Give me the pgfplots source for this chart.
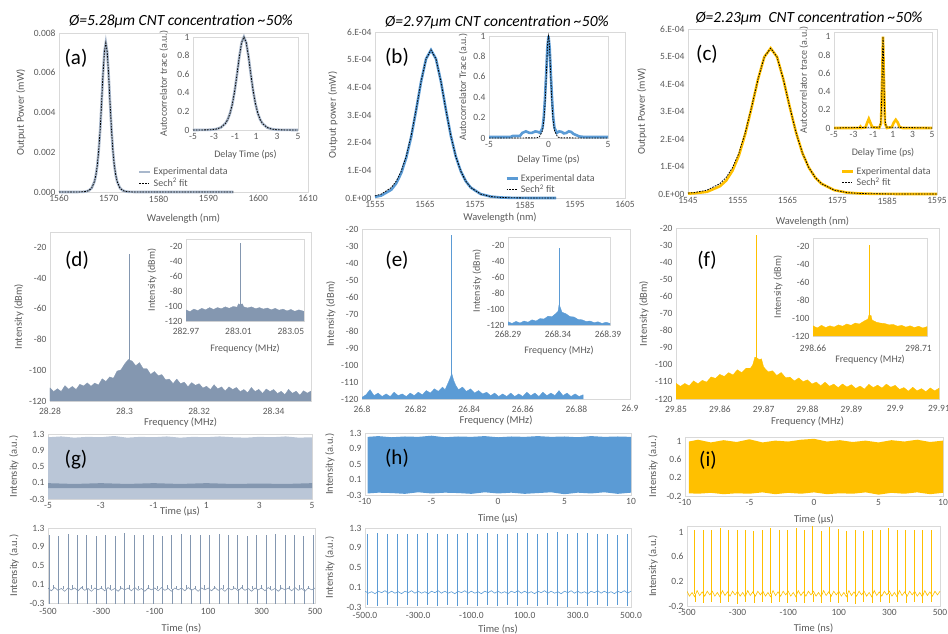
\documentclass[border=0pt]{standalone}
\usepackage{pgfplots}
\pgfplotsset{compat=1.18}
\usepackage{fontspec}
\setmainfont{Carlito}
\definecolor{framegray}{HTML}{D9D9D9}
\definecolor{tickgray}{HTML}{595959}
\definecolor{bgray}{HTML}{8497B0}
\definecolor{bgraylt}{HTML}{A9B8CC}
\definecolor{bgraypale}{HTML}{BAC6D7}
\definecolor{xblue}{HTML}{5B9BD5}
\definecolor{xgold}{HTML}{FFC000}
\pgfplotsset{
 exc/.style={scale only axis, anchor=south west, axis line style={framegray, line width=0.7pt},
   major tick length=0pt, tick style={draw=none},
   tick label style={font=\fontsize{9.5}{11}\selectfont, text=tickgray},
   label style={font=\fontsize{10.5}{12}\selectfont, text=tickgray},
   scaled ticks=false, /pgf/number format/assume math mode=true,
   legend cell align=left,
   legend image code/.code={\draw[##1] (0pt,0pt) -- (11pt,0pt);}},
 ins/.style={exc, axis background/.style={fill=white}, label style={font=\fontsize{10}{11}\selectfont}},
 ins2/.style={exc, label style={font=\fontsize{10}{11}\selectfont}},
 xl/.style={xlabel style={at={(axis description cs:0.5,-#1)},anchor=center}},
 yl/.style={ylabel style={at={(axis description cs:-#1,0.5)},anchor=center}},
 lg/.style={legend style={draw=none, fill=none, at={#1}, anchor=north west, font=\fontsize{10}{11}\selectfont, text=tickgray, row sep=-2pt, inner sep=0pt}},
 expl/.style={line width=2.6pt},
 fitl/.style={black, line width=0.8pt, dash pattern=on 1.6pt off 1.2pt},
}
\begin{document}
\begin{tikzpicture}[x=1pt,y=1pt]
\path[use as bounding box] (0pt,0pt) rectangle (948pt,633pt);

% ---------------- (a) ----------------
\begin{axis}[exc, at={(59pt,441pt)}, width=249pt, height=159pt, clip=false,
  xmin=1560, xmax=1610, ymin=0, ymax=0.008,
  xtick={1560,1570,1580,1590,1600,1610}, xticklabels={1560,1570,1580,1590,1600,1610},
  ytick={0,0.002,0.004,0.006,0.008}, yticklabels={0.000,0.002,0.004,0.006,0.008},
  xlabel={Wavelength (nm)}, ylabel={Output Power (mW)}, xl=0.17, yl=0.153, lg={(0.317,0.165)}]
\addplot[bgraylt, expl] coordinates {(1560,0) (1563.73,0.0000014) (1564.86,0.00001) (1565.43,0.0000273) (1566.00,0.000074) (1566.56,0.0002) (1567.13,0.00053) (1567.41,0.000854) (1567.70,0.001355) (1567.98,0.002103) (1568.27,0.00315) (1568.55,0.004475) (1568.83,0.0059) (1569.12,0.00705) (1569.4,0.0075) (1569.68,0.00705) (1569.97,0.0059) (1570.25,0.004475) (1570.54,0.00315) (1570.82,0.002103) (1571.10,0.001355) (1571.39,0.000854) (1571.67,0.00053) (1572.24,0.0002) (1572.80,0.000074) (1573.37,0.0000273) (1573.94,0.00001) (1575.07,0.0000014) (1595,0)};
\addlegendentry{Experimental data}
\addplot[fitl] coordinates {(1560,0) (1563.73,0.0000014) (1564.86,0.00001) (1565.43,0.0000273) (1566.00,0.000074) (1566.56,0.0002) (1567.13,0.00053) (1567.41,0.000854) (1567.70,0.001355) (1567.98,0.002103) (1568.27,0.00315) (1568.55,0.004475) (1568.83,0.0059) (1569.12,0.00705) (1569.4,0.0075) (1569.68,0.00705) (1569.97,0.0059) (1570.25,0.004475) (1570.54,0.00315) (1570.82,0.002103) (1571.10,0.001355) (1571.39,0.000854) (1571.67,0.00053) (1572.24,0.0002) (1572.80,0.000074) (1573.37,0.0000273) (1573.94,0.00001) (1575.07,0.0000014) (1595,0)};
\addlegendentry{Sech\textsuperscript{2} fit}
\end{axis}
\begin{axis}[ins, at={(193pt,503pt)}, width=105pt, height=93pt, clip=false,
  xmin=-5, xmax=5, ymin=0, ymax=1,
  xtick={-5,-3,-1,1,3,5}, xticklabels={-5,-3,-1,1,3,5},
  ytick={0,0.2,0.4,0.6,0.8,1}, yticklabels={0,0.2,0.4,0.6,0.8,1},
  xlabel={Delay Time (ps)}, ylabel={Autocorrelator trace (a.u.)}, xl=0.269, yl=0.276]
\addplot[bgraylt, expl] coordinates {(-5,0) (-3.67,0.0013) (-3.23,0.0036) (-2.79,0.0099) (-2.35,0.0266) (-1.91,0.0707) (-1.69,0.1138) (-1.47,0.1807) (-1.25,0.2804) (-1.03,0.42) (-0.81,0.5966) (-0.59,0.7864) (-0.37,0.9401) (-0.15,1) (0.07,0.9401) (0.29,0.7864) (0.51,0.5966) (0.73,0.42) (0.95,0.2804) (1.17,0.1807) (1.39,0.1138) (1.61,0.0707) (2.05,0.0266) (2.49,0.0099) (2.93,0.0036) (3.37,0.0013) (5,0)};
\addplot[fitl] coordinates {(-5,0) (-3.67,0.0013) (-3.23,0.0036) (-2.79,0.0099) (-2.35,0.0266) (-1.91,0.0707) (-1.69,0.1138) (-1.47,0.1807) (-1.25,0.2804) (-1.03,0.42) (-0.81,0.5966) (-0.59,0.7864) (-0.37,0.9401) (-0.15,1) (0.07,0.9401) (0.29,0.7864) (0.51,0.5966) (0.73,0.42) (0.95,0.2804) (1.17,0.1807) (1.39,0.1138) (1.61,0.0707) (2.05,0.0266) (2.49,0.0099) (2.93,0.0036) (3.37,0.0013) (5,0)};
\end{axis}

% ---------------- (b) ----------------
\begin{axis}[exc, at={(375pt,435pt)}, width=250pt, height=166pt, clip=false,
  xmin=1555, xmax=1605, ymin=0, ymax=0.0006,
  xtick={1555,1565,1575,1585,1595,1605}, xticklabels={1555,1565,1575,1585,1595,1605},
  ytick={0,0.0001,0.0002,0.0003,0.0004,0.0005,0.0006}, yticklabels={0.E+00,1.E-04,2.E-04,3.E-04,4.E-04,5.E-04,6.E-04},
  xlabel={Wavelength (nm)}, ylabel={Output power (mW)}, xl=0.12, yl=0.168, lg={(0.52,0.157)}]
\addplot[xblue, expl] coordinates {(1555,4e-6) (1556.27,9e-6) (1558.26,3.0e-5) (1559.25,5.3e-5) (1560.24,9.0e-5) (1561.24,1.45e-4) (1562.23,2.2e-4) (1563.22,3.17e-4) (1564.21,4.2e-4) (1565.21,5.03e-4) (1566.2,5.35e-4) (1567.19,5.03e-4) (1568.19,4.207e-4) (1569.18,3.192e-4) (1570.17,2.247e-4) (1571.16,1.5e-4) (1572.16,9.67e-5) (1573.15,6.09e-5) (1574.14,3.78e-5) (1576.13,1.42e-5) (1578.11,5.3e-6) (1580.1,1.9e-6) (1582.09,7e-7) (1586.06,1e-7) (1591.2,0)};
\addlegendentry{Experimental data}
\addplot[fitl] coordinates {(1555,7.6e-6) (1556.27,1.42e-5) (1558.26,3.78e-5) (1559.25,6.09e-5) (1560.24,9.67e-5) (1561.24,1.5e-4) (1562.23,2.247e-4) (1563.22,3.192e-4) (1564.21,4.207e-4) (1565.21,5.03e-4) (1566.2,5.35e-4) (1567.19,5.03e-4) (1568.19,4.207e-4) (1569.18,3.192e-4) (1570.17,2.247e-4) (1571.16,1.5e-4) (1572.16,9.67e-5) (1573.15,6.09e-5) (1574.14,3.78e-5) (1576.13,1.42e-5) (1578.11,5.3e-6) (1580.1,1.9e-6) (1582.09,7e-7) (1586.06,1e-7) (1591.2,0)};
\addlegendentry{Sech\textsuperscript{2} fit}
\end{axis}
\begin{axis}[ins, at={(489pt,495pt)}, width=119pt, height=102pt, clip=false,
  xmin=-5, xmax=5, ymin=0, ymax=1,
  xtick={-5,0,5}, xticklabels={-5,0,5},
  ytick={0,0.2,0.4,0.6,0.8,1}, yticklabels={0,0.2,0.4,0.6,0.8,1},
  xlabel={Delay Time (ps)}, ylabel={Autocorrelator Trace (a.u.)}, xl=0.216, yl=0.218]
\addplot[xblue, expl] coordinates {(-5,0.01) (-3.2,0.01) (-3.0,0.02) (-2.4,0.02) (-2.2,0.05) (-1.9,0.065) (-1.6,0.05) (-1.4,0.05) (-1.1,0.065) (-0.9,0.06) (-0.7,0.05) (-0.5,0.1) (-0.4,0.2) (-0.3,0.38) (-0.2,0.62) (-0.1,0.88) (0,1) (0.1,0.88) (0.2,0.62) (0.3,0.38) (0.4,0.2) (0.5,0.1) (0.7,0.05) (0.9,0.065) (1.1,0.06) (1.3,0.045) (1.5,0.05) (1.7,0.065) (1.9,0.06) (2.1,0.04) (2.4,0.025) (2.6,0.015) (3.0,0.01) (5,0.01)};
\addplot[fitl] coordinates {(-5,0) (-1.02,0.0013) (-0.766,0.0099) (-0.511,0.0707) (-0.383,0.1807) (-0.319,0.2804) (-0.255,0.42) (-0.191,0.5966) (-0.128,0.7864) (-0.064,0.9401) (0,1) (0.064,0.9401) (0.128,0.7864) (0.191,0.5966) (0.255,0.42) (0.319,0.2804) (0.383,0.1807) (0.511,0.0707) (0.766,0.0099) (1.02,0.0013) (5,0)};
\end{axis}

% ---------------- (c) ----------------
\begin{axis}[exc, at={(688pt,439pt)}, width=249pt, height=165pt, clip=false,
  xmin=1545, xmax=1595, ymin=0, ymax=0.0006,
  xtick={1545,1555,1565,1575,1585,1595}, xticklabels={1545,1555,1565,1575,1585,1595},
  ytick={0,0.0001,0.0002,0.0003,0.0004,0.0005,0.0006}, yticklabels={0.E+00,1.E-04,2.E-04,3.E-04,4.E-04,5.E-04,6.E-04},
  xlabel={Wavelength (nm)}, ylabel={Output Power (mW)}, xl=0.17, yl=0.185, lg={(0.614,0.176)}]
\addplot[xgold, expl] coordinates {(1545,1.5e-6) (1546.28,2.5e-6) (1548.83,8e-6) (1551.39,2.8e-5) (1552.67,4.9e-5) (1553.94,8.5e-5) (1555.22,1.4e-4) (1556.49,2.18e-4) (1557.77,3.14e-4) (1559.05,4.168e-4) (1560.32,4.983e-4) (1561.6,5.3e-4) (1562.88,4.983e-4) (1564.15,4.168e-4) (1565.43,3.162e-4) (1566.71,2.226e-4) (1567.98,1.486e-4) (1569.26,9.58e-5) (1570.54,6.03e-5) (1571.81,3.75e-5) (1574.36,1.41e-5) (1576.92,5.2e-6) (1579.47,1.9e-6) (1582.02,7.1e-7) (1587.13,9.5e-8) (1595,0)};
\addlegendentry{Experimental data}
\addplot[fitl] coordinates {(1545,3.2e-6) (1546.28,5.2e-6) (1548.83,1.41e-5) (1551.39,3.75e-5) (1552.67,6.03e-5) (1553.94,9.58e-5) (1555.22,1.486e-4) (1556.49,2.226e-4) (1557.77,3.162e-4) (1559.05,4.168e-4) (1560.32,4.983e-4) (1561.6,5.3e-4) (1562.88,4.983e-4) (1564.15,4.168e-4) (1565.43,3.162e-4) (1566.71,2.226e-4) (1567.98,1.486e-4) (1569.26,9.58e-5) (1570.54,6.03e-5) (1571.81,3.75e-5) (1574.36,1.41e-5) (1576.92,5.2e-6) (1579.47,1.9e-6) (1582.02,7.1e-7) (1587.13,9.5e-8) (1595,0)};
\addlegendentry{Sech\textsuperscript{2} fit}
\end{axis}
\begin{axis}[ins, at={(834pt,505pt)}, width=98pt, height=96pt, clip=false,
  xmin=-5, xmax=5, ymin=0, ymax=1.05,
  xtick={-5,-3,-1,1,3,5}, xticklabels={-5,-3,-1,1,3,5},
  ytick={0,0.2,0.4,0.6,0.8,1}, yticklabels={0,0.2,0.4,0.6,0.8,1},
  xlabel={Delay Time (ps)}, ylabel={Autocorrelator trace (a.u.)}, xl=0.26, yl=0.306]
\addplot[xgold, expl] coordinates {(-5,0) (-2.4,0) (-2.3,0.015) (-2.2,0) (-1.8,0.005) (-1.6,0.06) (-1.45,0.1) (-1.3,0.06) (-1.1,0.01) (-0.4,0) (-0.2,0.05) (-0.1,0.5) (0,1) (0.1,0.5) (0.2,0.05) (0.4,0) (0.9,0.01) (1.1,0.06) (1.3,0.09) (1.5,0.06) (1.7,0.01) (2.0,0) (5,0)};
\addplot[fitl] coordinates {(-5,0) (-0.34,0.0099) (-0.227,0.0707) (-0.17,0.1807) (-0.113,0.42) (-0.057,0.7864) (0,1) (0.057,0.7864) (0.113,0.42) (0.17,0.1807) (0.227,0.0707) (0.34,0.0099) (5,0)};
\end{axis}

% ---------------- (d) ----------------
\begin{axis}[exc, at={(50pt,232pt)}, width=261pt, height=169pt,
  xmin=28.28, xmax=28.35, ymin=-120, ymax=-10,
  xtick={28.28,28.30,28.32,28.34}, xticklabels={28.28,28.3,28.32,28.34},
  ytick={-120,-100,-80,-60,-40,-20}, yticklabels={-120,-100,-80,-60,-40,-20},
  xlabel={Frequency (MHz)}, ylabel={Intensity (dBm)}, xl=0.13, yl=0.119,
  xticklabel style={yshift=-3pt}]
\addplot[fill=bgray, draw=bgray, line width=0.3pt] coordinates {(28.280,-120) (28.280,-111.5) (28.281,-113.8) (28.282,-112) (28.283,-113.8) (28.284,-110) (28.285,-112.3) (28.286,-110.5) (28.287,-112.5) (28.288,-109.1) (28.289,-110.2) (28.290,-108.2) (28.291,-110.4) (28.292,-108.3) (28.293,-109.6) (28.294,-105.5) (28.295,-107.3) (28.296,-104.3) (28.297,-105.2) (28.298,-100.5) (28.299,-99.8) (28.300,-96) (28.301,-93) (28.302,-94) (28.303,-97) (28.304,-95) (28.305,-99) (28.306,-99) (28.307,-102.7) (28.308,-100.8) (28.309,-103.5) (28.310,-102.8) (28.311,-106.2) (28.312,-105.7) (28.313,-108.7) (28.314,-105.7) (28.315,-108.7) (28.316,-107.7) (28.317,-110.7) (28.318,-108) (28.319,-109.8) (28.320,-108.7) (28.321,-111.5) (28.322,-110.4) (28.323,-112.6) (28.324,-109.4) (28.325,-112.1) (28.326,-110.8) (28.327,-113.5) (28.328,-110.8) (28.329,-112.5) (28.330,-111.2) (28.331,-113.9) (28.332,-112.5) (28.333,-114.6) (28.334,-111.2) (28.335,-113.8) (28.336,-112.4) (28.337,-115) (28.338,-112.2) (28.339,-113.8) (28.340,-112.5) (28.341,-115.1) (28.342,-113.7) (28.343,-115.8) (28.344,-112.4) (28.345,-115) (28.346,-113.6) (28.347,-116.2) (28.348,-113.3) (28.349,-114.9) (28.350,-113.5) (28.350,-120)};
\addplot[bgray, line width=0.8pt] coordinates {(28.3012,-120) (28.3012,-24)};
\end{axis}
% inset x: kHz above 282.97 MHz
\begin{axis}[ins2, at={(186pt,312pt)}, width=118pt, height=82pt,
  xmin=0, xmax=90, ymin=-120, ymax=-10,
  xtick={0,40,80}, xticklabels={282.97,283.01,283.05},
  ytick={-120,-100,-80,-60,-40,-20}, yticklabels={-120,-100,-80,-60,-40,-20},
  xlabel={Frequency (MHz)}, ylabel={Intensity (dBm)}, xl=0.341, yl=0.288,
  xticklabel style={yshift=-3pt}]
\addplot[fill=bgray, draw=bgray, line width=0.3pt] coordinates {(0,-120) (0,-105) (3,-107.5) (6,-104) (9,-106) (12,-103) (15,-105) (18,-102) (21,-104.5) (24,-102) (27,-103.5) (30,-101) (33,-103) (36,-100.5) (39,-101.5) (40,-97) (41,-98) (43,-97) (44,-101) (47,-102.5) (50,-101) (53,-103.5) (56,-102) (59,-104) (62,-102.5) (65,-105) (68,-103) (71,-105.5) (74,-104) (77,-106.5) (80,-104.5) (83,-107) (86,-105) (90,-107) (90,-120)};
\addplot[bgray, line width=0.8pt] coordinates {(41.5,-120) (41.5,-15)};
\end{axis}

% ---------------- (e) ----------------
\begin{axis}[exc, at={(362pt,234pt)}, width=268pt, height=170pt,
  xmin=26.8, xmax=26.9, ymin=-120, ymax=-20,
  xtick={26.80,26.82,26.84,26.86,26.88,26.90}, xticklabels={26.8,26.82,26.84,26.86,26.88,26.9},
  ytick={-120,-110,-100,-90,-80,-70,-60,-50,-40,-30,-20}, yticklabels={-120,-110,-100,-90,-80,-70,-60,-50,-40,-30,-20},
  xlabel={Frequency (MHz)}, ylabel={Intensity (dBm)}, xl=0.129, yl=0.116,
  xticklabel style={yshift=-3pt}]
\addplot[fill=xblue, draw=xblue, line width=0.3pt] coordinates {(26.8000,-120) (26.8000,-119) (26.8015,-117.5) (26.8030,-114.5) (26.8045,-118) (26.8060,-116.5) (26.8075,-118.5) (26.8090,-117) (26.8105,-118.5) (26.8120,-116) (26.8135,-118) (26.8150,-117) (26.8165,-118.5) (26.8180,-116.5) (26.8195,-118) (26.8210,-116) (26.8225,-117.5) (26.8240,-115) (26.8255,-116.5) (26.8270,-114) (26.8285,-115.5) (26.8300,-113) (26.8310,-114.5) (26.8320,-111) (26.8328,-108) (26.8335,-105) (26.8342,-109) (26.8350,-112) (26.8360,-114.5) (26.8375,-113) (26.8390,-115.5) (26.8405,-114) (26.8420,-116.5) (26.8435,-115) (26.8450,-117) (26.8465,-116) (26.8480,-118) (26.8495,-116.5) (26.8510,-118.5) (26.8525,-117) (26.8540,-118.5) (26.8555,-116.5) (26.8570,-118.5) (26.8585,-117) (26.8600,-118.5) (26.8615,-116) (26.8630,-118) (26.8645,-116.5) (26.8660,-118.5) (26.8675,-116) (26.8690,-118) (26.8705,-116.5) (26.8720,-118) (26.8735,-115) (26.8750,-118) (26.8765,-116.5) (26.8780,-118.5) (26.8795,-117) (26.8810,-118.5) (26.8825,-117.5) (26.8825,-120)};
\addplot[xblue, line width=0.8pt] coordinates {(26.8333,-120) (26.8333,-23.5)};
\end{axis}
% inset x: kHz above 268.29 MHz
\begin{axis}[ins2, at={(508pt,308pt)}, width=102pt, height=88pt,
  xmin=0, xmax=102, ymin=-120, ymax=-10,
  xtick={0,50,100}, xticklabels={268.29,268.34,268.39},
  ytick={-120,-100,-80,-60,-40,-20}, yticklabels={-120,-100,-80,-60,-40,-20},
  xlabel={Frequency (MHz)}, ylabel={Intensity (dBm)}, xl=0.295, yl=0.304,
  xticklabel style={yshift=-2pt}]
\addplot[fill=xblue, draw=xblue, line width=0.3pt] coordinates {(0,-120) (0,-116) (4,-118) (8,-115.5) (12,-117.5) (16,-115) (20,-116.5) (24,-113.5) (28,-115) (32,-112) (36,-112.5) (40,-109) (44,-109.5) (48,-105.5) (50,-103) (51,-95) (52,-97) (54,-104) (58,-106) (62,-109.5) (66,-110) (70,-113) (74,-113.5) (78,-115.5) (82,-115) (86,-117) (90,-116) (94,-118) (98,-116.5) (102,-118) (102,-120)};
\addplot[xblue, line width=0.8pt] coordinates {(51.3,-120) (51.3,-24)};
\end{axis}

% ---------------- (f) ----------------
% x: kHz above 29.85 MHz
\begin{axis}[exc, at={(676pt,234pt)}, width=263pt, height=171pt,
  xmin=0, xmax=60, ymin=-120, ymax=-20,
  xtick={0,10,20,30,40,50,60}, xticklabels={29.85,29.86,29.87,29.88,29.89,29.9,29.91},
  ytick={-120,-110,-100,-90,-80,-70,-60,-50,-40,-30,-20}, yticklabels={-120,-110,-100,-90,-80,-70,-60,-50,-40,-30,-20},
  xlabel={Frequency (MHz)}, ylabel={Intensity (dBm)}, xl=0.129, yl=0.122,
  xticklabel style={yshift=-3pt}]
\addplot[fill=xgold, draw=xgold, line width=0.3pt] coordinates {(0,-120) (0,-110.8) (1,-112.6) (2,-110.9) (3,-112.3) (4,-109.4) (5,-111.1) (6,-109.1) (7,-110.1) (8,-107.1) (9,-107.9) (10,-105.6) (11,-106.8) (12,-104.6) (13,-105.9) (14,-102.9) (15,-104.6) (16,-102) (17,-102) (17.5,-100) (18,-95.5) (18.5,-96) (19,-97) (19.5,-96.5) (20,-101.3) (21,-104.1) (22,-103.5) (23,-106.2) (24,-104.5) (25,-107.5) (26,-107.2) (27,-109.4) (28,-107.7) (29,-109.8) (30,-108.8) (31,-111.2) (32,-110.1) (33,-112.3) (34,-110.1) (35,-112.5) (36,-111.3) (37,-113.3) (38,-111.2) (39,-113) (40,-111.6) (41,-113.8) (42,-112.4) (43,-114.2) (44,-111.4) (45,-113.3) (46,-111.9) (47,-113.6) (48,-111.3) (49,-113.1) (50,-112) (51,-114.4) (52,-113.3) (53,-115.4) (54,-113.1) (55,-115.2) (56,-113.9) (57,-115.7) (58,-113.5) (59,-115.2) (60,-113.7) (60,-120)};
\addplot[xgold, line width=0.8pt] coordinates {(18.3,-120) (18.3,-24)};
\end{axis}
% inset x: kHz above 298.66 MHz
\begin{axis}[ins2, at={(813pt,297pt)}, width=114pt, height=98pt,
  xmin=0, xmax=54, ymin=-120, ymax=-10,
  xtick={0,50}, xticklabels={298.66,298.71},
  ytick={-120,-100,-80,-60,-40,-20}, yticklabels={-120,-100,-80,-60,-40,-20},
  xlabel={Frequency (MHz)}, ylabel={Intensity (dBm)}, xl=0.245, yl=0.307,
  xticklabel style={yshift=-5pt}]
\addplot[fill=xgold, draw=xgold, line width=0.3pt] coordinates {(0,-120) (0,-108.5) (2,-111) (4,-108) (6,-110.5) (8,-108.5) (10,-110) (12,-107.5) (14,-109) (16,-106.5) (18,-108) (20,-105.5) (22,-106.5) (24,-103.5) (26,-101) (26.5,-96.5) (27.5,-97) (28,-102) (30,-104.5) (32,-105.5) (34,-106) (36,-107.5) (38,-107) (40,-109) (42,-108) (44,-110) (46,-108.5) (48,-110.5) (50,-109) (52,-111) (54,-109.5) (54,-120)};
\addplot[xgold, line width=0.8pt] coordinates {(26.8,-120) (26.8,-17.8)};
\end{axis}

% ---------------- (g) ----------------
\begin{axis}[exc, at={(48pt,134pt)}, width=264pt, height=65pt,
  xmin=-5, xmax=5, ymin=-0.3, ymax=1.3,
  xtick={-5,-3,-1,1,3,5}, xticklabels={-5,-3,-1,1,3,5},
  ytick={-0.3,0.1,0.5,0.9,1.3}, yticklabels={-0.3,0.1,0.5,0.9,1.3},
  xlabel={Time (µs)}, ylabel={Intensity (a.u.)}, xl=0.185, yl=0.129]
\addplot[fill=bgraypale, draw=none] coordinates {(-5,-0.3) (-5,1.22) (-4.5,1.24) (-4,1.21) (-3.5,1.23) (-3,1.22) (-2.5,1.25) (-2,1.21) (-1.5,1.23) (-1,1.22) (-0.5,1.24) (0,1.21) (0.5,1.23) (1,1.22) (1.5,1.24) (2,1.22) (2.5,1.21) (3,1.23) (3.5,1.22) (4,1.24) (4.5,1.21) (5,1.22) (5,-0.3)};
\addplot[fill=bgray, draw=none] coordinates {(-5,-0.03) (-5,0.09) (-4,0.07) (-3,0.09) (-2,0.07) (-1,0.09) (0,0.07) (1,0.09) (2,0.07) (3,0.08) (4,0.07) (5,0.09) (5,-0.03)};
\end{axis}
\begin{axis}[exc, at={(48pt,30pt)}, width=267pt, height=75pt,
  xmin=-500, xmax=500, ymin=-0.3, ymax=1.3,
  xtick={-500,-300,-100,100,300,500}, xticklabels={-500,-300,-100,100,300,500},
  ytick={-0.3,0.1,0.5,0.9,1.3}, yticklabels={-0.3,0.1,0.5,0.9,1.3},
  xlabel={Time (ns)}, ylabel={Intensity (a.u.)}, xl=0.333, yl=0.127,
  xticklabel style={yshift=-2pt}]
\addplot[bgray, line width=0.6pt] coordinates {(-500,0.02) (-487.5,-0.04) (-475,0.03) (-462.5,-0.03) (-450,0.01) (-437.5,-0.05) (-425,0.02) (-412.5,-0.02) (-400,0.02) (-387.5,-0.04) (-375,0.03) (-362.5,-0.03) (-350,0.01) (-337.5,-0.05) (-325,0.02) (-312.5,-0.02) (-300,0.02) (-287.5,-0.04) (-275,0.03) (-262.5,-0.03) (-250,0.01) (-237.5,-0.05) (-225,0.02) (-212.5,-0.02) (-200,0.02) (-187.5,-0.04) (-175,0.03) (-162.5,-0.03) (-150,0.01) (-137.5,-0.05) (-125,0.02) (-112.5,-0.02) (-100,0.02) (-87.5,-0.04) (-75,0.03) (-62.5,-0.03) (-50,0.01) (-37.5,-0.05) (-25,0.02) (-12.5,-0.02) (0,0.02) (12.5,-0.04) (25,0.03) (37.5,-0.03) (50,0.01) (62.5,-0.05) (75,0.02) (87.5,-0.02) (100,0.02) (112.5,-0.04) (125,0.03) (137.5,-0.03) (150,0.01) (162.5,-0.05) (175,0.02) (187.5,-0.02) (200,0.02) (212.5,-0.04) (225,0.03) (237.5,-0.03) (250,0.01) (262.5,-0.05) (275,0.02) (287.5,-0.02) (300,0.02) (312.5,-0.04) (325,0.03) (337.5,-0.03) (350,0.01) (362.5,-0.05) (375,0.02) (387.5,-0.02) (400,0.02) (412.5,-0.04) (425,0.03) (437.5,-0.03) (450,0.01) (462.5,-0.05) (475,0.02) (487.5,-0.02) (500,0.02)};
\addplot[bgray, line width=0.7pt, ycomb] coordinates {(-496.0,1.15) (-495.0,-0.35) (-478.3,0.08) (-460.7,1.14) (-459.7,-0.35) (-443.0,0.07) (-425.3,1.18) (-424.3,-0.35) (-407.6,0.08) (-390.0,1.15) (-389.0,-0.35) (-372.3,0.06) (-354.6,1.16) (-353.6,-0.35) (-336.9,0.08) (-319.3,1.14) (-318.3,-0.35) (-301.6,0.07) (-283.9,1.15) (-282.9,-0.35) (-266.2,0.08) (-248.6,1.14) (-247.6,-0.35) (-230.9,0.06) (-213.3,1.19) (-212.3,-0.35) (-195.6,0.08) (-177.9,1.15) (-176.9,-0.35) (-160.2,0.07) (-142.6,1.16) (-141.6,-0.35) (-124.9,0.08) (-107.3,1.15) (-106.3,-0.35) (-89.6,0.06) (-71.9,1.14) (-70.9,-0.35) (-54.2,0.08) (-36.6,1.15) (-35.6,-0.35) (-18.9,0.07) (-1.2,1.17) (-0.2,-0.35) (16.5,0.08) (34.1,1.15) (35.1,-0.35) (51.8,0.06) (69.4,1.16) (70.4,-0.35) (87.1,0.08) (104.8,1.15) (105.8,-0.35) (122.5,0.07) (140.1,1.17) (141.1,-0.35) (157.8,0.08) (175.5,1.15) (176.5,-0.35) (193.2,0.06) (210.8,1.15) (211.8,-0.35) (228.5,0.08) (246.1,1.14) (247.1,-0.35) (263.8,0.07) (281.5,1.15) (282.5,-0.35) (299.2,0.08) (316.8,1.15) (317.8,-0.35) (334.5,0.06) (352.2,1.18) (353.2,-0.35) (369.9,0.08) (387.5,1.15) (388.5,-0.35) (405.2,0.07) (422.8,1.16) (423.8,-0.35) (440.5,0.08) (458.2,1.14) (459.2,-0.35) (475.9,0.06) (493.5,1.16) (494.5,-0.35)};
\end{axis}

% ---------------- (h) ----------------
\begin{axis}[exc, at={(365pt,138pt)}, width=266pt, height=62pt,
  xmin=-10, xmax=10, ymin=-0.3, ymax=1.3,
  xtick={-10,-5,0,5,10}, xticklabels={-10,-5,0,5,10},
  ytick={-0.3,0.1,0.5,0.9,1.3}, yticklabels={-0.3,0.1,0.5,0.9,1.3},
  xlabel={Time (µs)}, ylabel={Intensity (a.u.)}, xl=0.387, yl=0.132]
\addplot[fill=xblue, draw=none] coordinates {(-9.8,-0.26) (-9.8,1.2) (-9,1.22) (-8,1.19) (-7,1.21) (-6,1.2) (-5,1.23) (-4,1.19) (-3,1.21) (-2,1.2) (-1,1.22) (0,1.19) (1,1.21) (2,1.2) (3,1.22) (4,1.2) (5,1.21) (6,1.19) (7,1.22) (8,1.2) (9,1.21) (10,1.2) (10,-0.24) (9,-0.27) (8,-0.23) (7,-0.26) (6,-0.24) (5,-0.28) (4,-0.23) (3,-0.25) (2,-0.27) (1,-0.24) (0,-0.26) (-1,-0.23) (-2,-0.27) (-3,-0.25) (-4,-0.24) (-5,-0.26) (-6,-0.23) (-7,-0.27) (-8,-0.25) (-9,-0.24)};
\end{axis}
\begin{axis}[exc, at={(365pt,26pt)}, width=266pt, height=79pt,
  xmin=-500, xmax=500, ymin=-0.3, ymax=1.3,
  xtick={-500,-300,-100,100,300,500}, xticklabels={-500.0,-300.0,-100.0,100.0,300.0,500.0},
  ytick={-0.3,0.1,0.5,0.9,1.3}, yticklabels={-0.3,0.1,0.5,0.9,1.3},
  xlabel={Time (ns)}, ylabel={Intensity (a.u.)}, xl=0.278, yl=0.132,
  xticklabel style={yshift=-2pt}]
\addplot[xblue, line width=0.6pt] coordinates {(-500,0.02) (-487.5,-0.02) (-475,0.01) (-462.5,-0.03) (-450,0.02) (-437.5,-0.01) (-425,0.03) (-412.5,-0.02) (-400,0.02) (-387.5,-0.02) (-375,0.01) (-362.5,-0.03) (-350,0.02) (-337.5,-0.01) (-325,0.03) (-312.5,-0.02) (-300,0.02) (-287.5,-0.02) (-275,0.01) (-262.5,-0.03) (-250,0.02) (-237.5,-0.01) (-225,0.03) (-212.5,-0.02) (-200,0.02) (-187.5,-0.02) (-175,0.01) (-162.5,-0.03) (-150,0.02) (-137.5,-0.01) (-125,0.03) (-112.5,-0.02) (-100,0.02) (-87.5,-0.02) (-75,0.01) (-62.5,-0.03) (-50,0.02) (-37.5,-0.01) (-25,0.03) (-12.5,-0.02) (0,0.02) (12.5,-0.02) (25,0.01) (37.5,-0.03) (50,0.02) (62.5,-0.01) (75,0.03) (87.5,-0.02) (100,0.02) (112.5,-0.02) (125,0.01) (137.5,-0.03) (150,0.02) (162.5,-0.01) (175,0.03) (187.5,-0.02) (200,0.02) (212.5,-0.02) (225,0.01) (237.5,-0.03) (250,0.02) (262.5,-0.01) (275,0.03) (287.5,-0.02) (300,0.02) (312.5,-0.02) (325,0.01) (337.5,-0.03) (350,0.02) (362.5,-0.01) (375,0.03) (387.5,-0.02) (400,0.02) (412.5,-0.02) (425,0.01) (437.5,-0.03) (450,0.02) (462.5,-0.01) (475,0.03) (487.5,-0.02) (500,0.02)};
\addplot[xblue, line width=0.7pt, ycomb] coordinates {(-491.0,1.18) (-490.0,-0.26) (-453.4,1.19) (-452.4,-0.27) (-415.8,1.18) (-414.8,-0.25) (-378.2,1.17) (-377.2,-0.27) (-340.6,1.18) (-339.6,-0.26) (-303.0,1.18) (-302.0,-0.28) (-265.4,1.19) (-264.4,-0.26) (-227.8,1.18) (-226.8,-0.27) (-190.2,1.17) (-189.2,-0.25) (-152.6,1.18) (-151.6,-0.27) (-115.0,1.19) (-114.0,-0.26) (-77.4,1.18) (-76.4,-0.27) (-39.8,1.19) (-38.8,-0.25) (-2.2,1.17) (-1.2,-0.27) (35.4,1.18) (36.4,-0.26) (73.0,1.19) (74.0,-0.27) (110.6,1.2) (111.6,-0.25) (148.2,1.18) (149.2,-0.27) (185.8,1.2) (186.8,-0.26) (223.4,1.21) (224.4,-0.27) (261.0,1.18) (262.0,-0.3) (298.6,1.19) (299.6,-0.26) (336.2,1.2) (337.2,-0.27) (373.8,1.18) (374.8,-0.25) (411.4,1.17) (412.4,-0.27) (449.0,1.16) (450.0,-0.26) (486.6,1.18) (487.6,-0.27)};
\end{axis}

% ---------------- (i) ----------------
\begin{axis}[exc, at={(685pt,137pt)}, width=258pt, height=59pt,
  xmin=-10, xmax=10, ymin=-0.2, ymax=1.1,
  xtick={-10,-5,0,5,10}, xticklabels={-10,-5,0,5,10},
  ytick={-0.2,0.2,0.6,1}, yticklabels={-0.2,0.2,0.6,1},
  xlabel={Time (µs)}, ylabel={Intensity (a.u.)}, xl=0.39, yl=0.124]
\addplot[fill=xgold, draw=none] coordinates {(-9.7,-0.14) (-9.7,1.0) (-9,1.04) (-8,0.98) (-7,1.03) (-6,0.99) (-5,1.05) (-4,0.98) (-3,1.02) (-2,1.0) (-1,1.04) (0,1.06) (1,1.0) (2,1.03) (3,0.99) (4,1.02) (5,0.98) (6,1.03) (7,1.0) (8,1.04) (9,0.99) (10,1.02) (10,-0.13) (9,-0.16) (8,-0.12) (7,-0.15) (6,-0.13) (5,-0.17) (4,-0.12) (3,-0.15) (2,-0.14) (1,-0.16) (0,-0.12) (-1,-0.15) (-2,-0.13) (-3,-0.16) (-4,-0.12) (-5,-0.15) (-6,-0.14) (-7,-0.16) (-8,-0.13) (-9,-0.15)};
\end{axis}
\begin{axis}[exc, at={(687pt,27pt)}, width=253pt, height=80pt,
  xmin=-500, xmax=500, ymin=-0.2, ymax=1.1,
  xtick={-500,-300,-100,100,300,500}, xticklabels={-500,-300,-100,100,300,500},
  ytick={-0.2,0.2,0.6,1}, yticklabels={-0.2,0.2,0.6,1},
  xlabel={Time (ns)}, ylabel={Intensity (a.u.)}, xl=0.275, yl=0.134]
\addplot[xgold, line width=0.6pt] coordinates {(-500,0.04) (-490,-0.04) (-480,0.02) (-470,-0.05) (-460,0.05) (-450,-0.03) (-440,0.03) (-430,-0.04) (-420,0.04) (-410,-0.02) (-400,0.04) (-390,-0.04) (-380,0.02) (-370,-0.05) (-360,0.05) (-350,-0.03) (-340,0.03) (-330,-0.04) (-320,0.04) (-310,-0.02) (-300,0.04) (-290,-0.04) (-280,0.02) (-270,-0.05) (-260,0.05) (-250,-0.03) (-240,0.03) (-230,-0.04) (-220,0.04) (-210,-0.02) (-200,0.04) (-190,-0.04) (-180,0.02) (-170,-0.05) (-160,0.05) (-150,-0.03) (-140,0.03) (-130,-0.04) (-120,0.04) (-110,-0.02) (-100,0.04) (-90,-0.04) (-80,0.02) (-70,-0.05) (-60,0.05) (-50,-0.03) (-40,0.03) (-30,-0.04) (-20,0.04) (-10,-0.02) (0,0.04) (10,-0.04) (20,0.02) (30,-0.05) (40,0.05) (50,-0.03) (60,0.03) (70,-0.04) (80,0.04) (90,-0.02) (100,0.04) (110,-0.04) (120,0.02) (130,-0.05) (140,0.05) (150,-0.03) (160,0.03) (170,-0.04) (180,0.04) (190,-0.02) (200,0.04) (210,-0.04) (220,0.02) (230,-0.05) (240,0.05) (250,-0.03) (260,0.03) (270,-0.04) (280,0.04) (290,-0.02) (300,0.04) (310,-0.04) (320,0.02) (330,-0.05) (340,0.05) (350,-0.03) (360,0.03) (370,-0.04) (380,0.04) (390,-0.02) (400,0.04) (410,-0.04) (420,0.02) (430,-0.05) (440,0.05) (450,-0.03) (460,0.03) (470,-0.04) (480,0.04) (490,-0.02) (500,0.04)};
\addplot[xgold, line width=0.7pt, ycomb] coordinates {(-469.7,1.04) (-468.7,-0.14) (-436.3,1.03) (-435.3,-0.15) (-403.0,1.03) (-402.0,-0.13) (-369.6,1.07) (-368.6,-0.15) (-336.3,1.04) (-335.3,-0.14) (-302.9,1.04) (-301.9,-0.16) (-269.5,1.03) (-268.5,-0.14) (-236.2,1.02) (-235.2,-0.15) (-202.8,1.04) (-201.8,-0.13) (-169.5,1.06) (-168.5,-0.15) (-136.1,1.04) (-135.1,-0.14) (-102.7,1.03) (-101.7,-0.15) (-69.4,1.06) (-68.4,-0.13) (-36.0,1.04) (-35.0,-0.15) (-2.7,1.11) (-1.7,-0.14) (30.7,1.02) (31.7,-0.15) (64.1,1.08) (65.1,-0.13) (97.4,1.05) (98.4,-0.15) (130.8,1.02) (131.8,-0.14) (164.1,1.03) (165.1,-0.16) (197.5,1.02) (198.5,-0.14) (230.9,1.03) (231.9,-0.15) (264.2,1.03) (265.2,-0.13) (297.6,1.06) (298.6,-0.15) (330.9,1.04) (331.9,-0.14) (364.3,1.03) (365.3,-0.15) (397.7,1.03) (398.7,-0.13) (431.0,1.03) (432.0,-0.15) (464.4,1.03) (465.4,-0.14)};
\end{axis}

% ---------------- titles and panel letters ----------------
\node[font=\fontsize{15.5}{18}\selectfont\itshape] at (181pt,611.5pt) {Ø=5.28µm CNT concentration \textasciitilde50\%};
\node[font=\fontsize{15.5}{18}\selectfont\itshape] at (497pt,611pt) {Ø=2.97µm CNT concentration \textasciitilde50\%};
\node[font=\fontsize{15.5}{18}\selectfont\itshape] at (809pt,615pt) {Ø=2.23µm\ \ CNT concentration \textasciitilde50\%};
\node[font=\fontsize{21}{24}\selectfont] at (76pt,575pt) {(a)};
\node[font=\fontsize{21}{24}\selectfont] at (397pt,576pt) {(b)};
\node[font=\fontsize{21}{24}\selectfont] at (707pt,579pt) {(c)};
\node[font=\fontsize{21}{24}\selectfont] at (77pt,373pt) {(d)};
\node[font=\fontsize{21}{24}\selectfont] at (397pt,373pt) {(e)};
\node[font=\fontsize{21}{24}\selectfont] at (707pt,373pt) {(f)};
\node[font=\fontsize{21}{24}\selectfont] at (76pt,173pt) {(g)};
\node[font=\fontsize{21}{24}\selectfont] at (397pt,175pt) {(h)};
\node[font=\fontsize{21}{24}\selectfont] at (708pt,173pt) {(i)};
\end{tikzpicture}
\end{document}
